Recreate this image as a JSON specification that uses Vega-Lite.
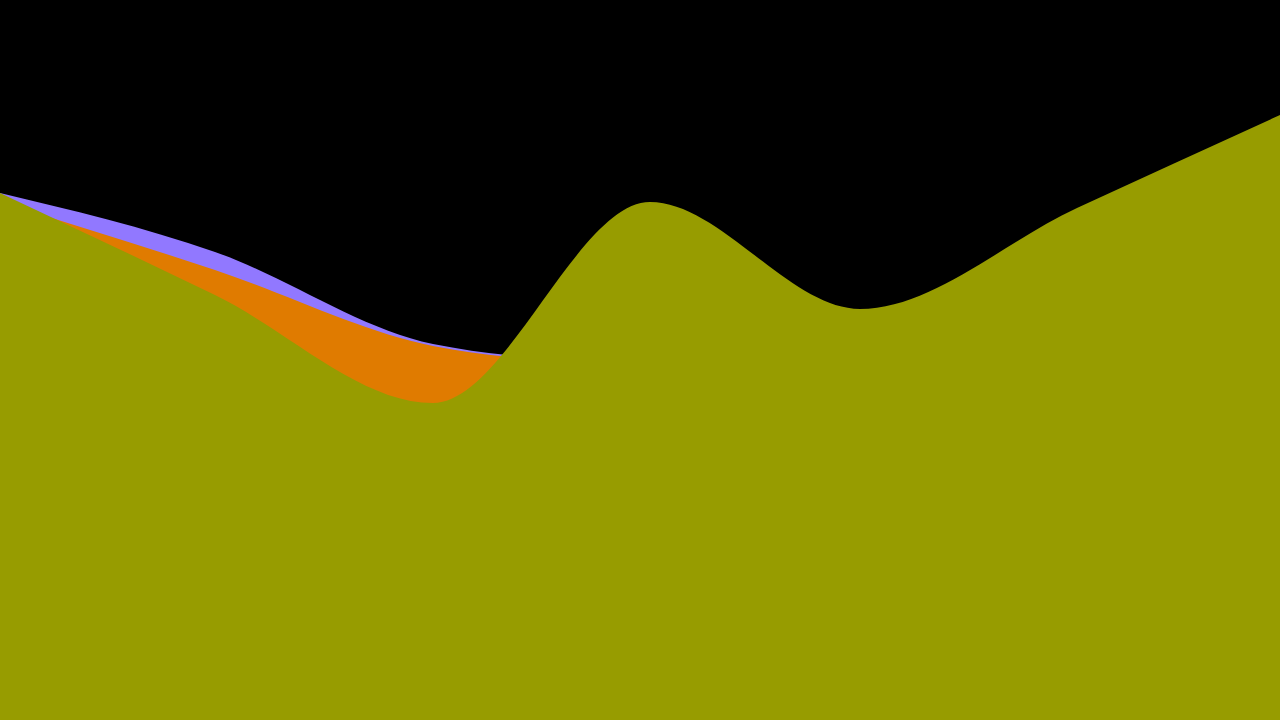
{
  "$schema": "https://vega.github.io/schema/vega-lite/v6.json",
  "width": 1280,
  "height": 720,
  "autosize": {"type": "fit", "contains": "padding"},
  "padding": 0,
  "background": "#000000",
  "config": {"view": {"stroke": null}},
  "data": {
    "values": [
      {"series": "A", "x": 0, "v": 527},
      {"series": "A", "x": 215, "v": 468},
      {"series": "A", "x": 433, "v": 376},
      {"series": "A", "x": 650, "v": 354},
      {"series": "A", "x": 860, "v": 340},
      {"series": "A", "x": 1077, "v": 330},
      {"series": "A", "x": 1280, "v": 350},
      {"series": "B", "x": 0, "v": 518},
      {"series": "B", "x": 215, "v": 450},
      {"series": "B", "x": 433, "v": 374},
      {"series": "B", "x": 650, "v": 352},
      {"series": "B", "x": 860, "v": 330},
      {"series": "B", "x": 1077, "v": 320},
      {"series": "B", "x": 1280, "v": 340},
      {"series": "C", "x": 0, "v": 527},
      {"series": "C", "x": 215, "v": 425},
      {"series": "C", "x": 433, "v": 317},
      {"series": "C", "x": 650, "v": 518},
      {"series": "C", "x": 860, "v": 411},
      {"series": "C", "x": 1077, "v": 512},
      {"series": "C", "x": 1280, "v": 605}
    ]
  },
  "mark": {"type": "area", "interpolate": "monotone", "opacity": 1},
  "encoding": {
    "x": {"field": "x", "type": "quantitative", "axis": null, "scale": {"domain": [0, 1280], "nice": false, "zero": false}},
    "y": {"field": "v", "type": "quantitative", "axis": null, "stack": null, "scale": {"domain": [0, 720], "nice": false}},
    "color": {"field": "series", "type": "nominal", "legend": null, "scale": {"domain": ["A", "B", "C"], "range": ["#9178ff", "#e07b00", "#979c00"]}}
  }
}
